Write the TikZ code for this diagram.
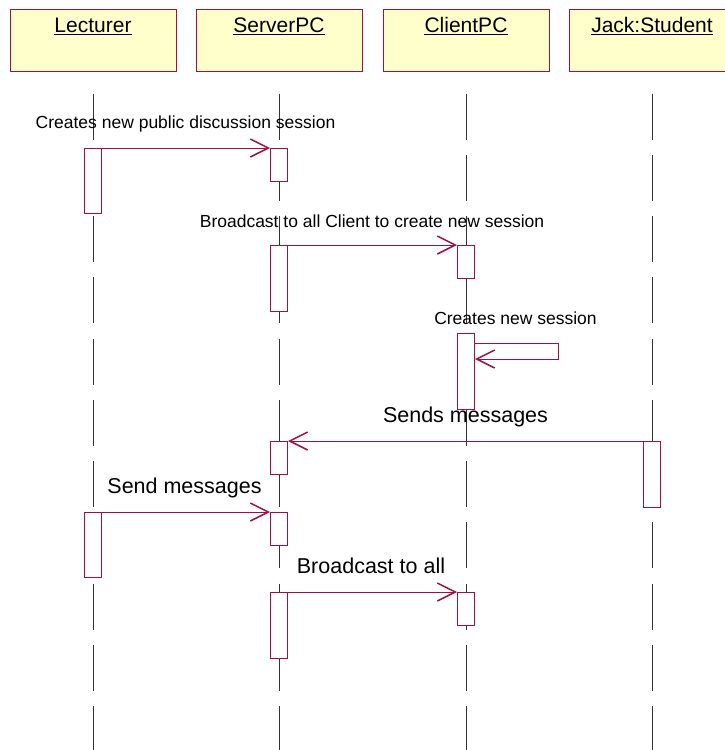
\documentclass[tikz,border=0pt]{standalone}
\usepackage{fontspec}
\setmainfont{Liberation Sans}
\usetikzlibrary{arrows.meta}
\definecolor{rose}{RGB}{160,16,64}
\definecolor{headfill}{RGB}{255,255,204}
\begin{document}
\begin{tikzpicture}[x=1pt,y=-1pt,
  head/.style={draw=rose, fill=headfill, line width=1pt, minimum width=166pt, minimum height=62pt, inner sep=0pt},
  title/.style={anchor=base, inner sep=0pt, font=\fontsize{21}{25}\selectfont},
  uline/.style={line width=1.4pt, black},
  life/.style={draw=black!80, line width=0.9pt, dash pattern=on 46pt off 15.25pt},
  act/.style={draw=rose, fill=white, line width=1pt, minimum width=17pt, anchor=north, inner sep=0pt},
  msg/.style={draw=rose, line width=1pt, -{Straight Barb[length=18pt,width=18pt,line width=1.5pt]}},
  small/.style={anchor=base, inner sep=0pt, font=\fontsize{17.5}{21}\selectfont},
  big/.style={anchor=base, inner sep=0pt, font=\fontsize{21.5}{26}\selectfont},
]
\useasboundingbox (0,0) rectangle (725,750);
\clip (0,0) rectangle (725,750);

% object heads
\node[head] (lec) at (93,40) {};
\node[head] (srv) at (279,40) {};
\node[head] (cli) at (466,40) {};
\node[head] (jack) at (652,40) {};

\foreach \h/\t in {lec/Lecturer, srv/ServerPC, cli/ClientPC, jack/Jack:Student} {
  \node[title] (\h-t) at ([yshift=-24pt]\h.north) {\t};
  \draw[uline] ([yshift=-2pt]\h-t.base west) -- ([yshift=-2pt]\h-t.base east);
}

% lifelines
\foreach \h in {lec, srv, cli, jack} {
  \draw[life] ([yshift=-22pt]\h.south) -- (\h.south |- 0,750);
}

% activation bars
\node[act, minimum height=65pt] (a1) at (93,148) {};
\node[act, minimum height=33pt] (a2) at (279,148) {};
\node[act, minimum height=66pt] (a3) at (279,245) {};
\node[act, minimum height=33pt] (a4) at (466,245) {};
\node[act, minimum height=76pt] (a5) at (466,333) {};
\node[act, minimum height=33pt] (a6) at (279,441) {};
\node[act, minimum height=66pt] (a7) at (652,441) {};
\node[act, minimum height=65pt] (a8) at (93,512) {};
\node[act, minimum height=33pt] (a9) at (279,512) {};
\node[act, minimum height=66pt] (a10) at (279,592) {};
\node[act, minimum height=33pt] (a11) at (466,592) {};

% messages
\draw[msg] (a1.north east) -- (a2.north west);
\draw[msg] (a3.north east) -- (a4.north west);
\draw[msg] ([yshift=-10pt]a5.north east) -- ++(83,0) -- ++(0,16) -- ([yshift=-26pt]a5.north east);
\draw[msg] (a7.north west) -- (a6.north east);
\draw[msg] (a8.north east) -- (a9.north west);
\draw[msg] (a10.north east) -- (a11.north west);

% message labels
\node[small] (l1) at (185.5,128) {Creates new public discussion session};
\node[small] (l2) at (372,227) {Broadcast to all Client to create new session};
\node[small] (l3) at (515.5,324) {Creates new session};
\node[big] (l4) at (465.5,422) {Sends messages};
\node[big] (l5) at (184.5,493) {Send messages};
\node[big] (l6) at (371,573) {Broadcast to all};
\end{tikzpicture}
\end{document}
